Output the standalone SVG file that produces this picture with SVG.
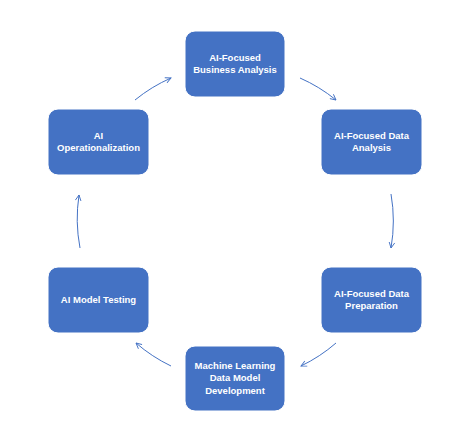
<svg xmlns="http://www.w3.org/2000/svg" width="468" height="435" viewBox="0 0 468 435">
<defs>
<style>
.box{fill:#4472C4;stroke:#ffffff;stroke-width:1}
.lbl{font-family:"Liberation Sans",Arial,sans-serif;font-weight:bold;font-size:9.5px;fill:#ffffff;text-anchor:middle}
.arc{fill:none;stroke:#4472C4;stroke-width:1}
</style>
<marker id="ah" viewBox="0 0 10 10" refX="9" refY="5" markerWidth="7" markerHeight="7" markerUnits="userSpaceOnUse" orient="auto">
<path d="M1,1 L9,5 L1,9" fill="none" stroke="#4472C4" stroke-width="1.3"/>
</marker>
</defs>
<rect width="468" height="435" fill="#ffffff"/>
<g id="connectors">
<path class="arc" marker-end="url(#ah)" d="M135,100 A157,157 0 0 1 171,78"/>
<path class="arc" marker-end="url(#ah)" d="M300,78 A157,157 0 0 1 336,100"/>
<path class="arc" marker-end="url(#ah)" d="M391,194 A157,157 0 0 1 391,248"/>
<path class="arc" marker-end="url(#ah)" d="M336,343 A157,157 0 0 1 301,366"/>
<path class="arc" marker-end="url(#ah)" d="M171,366 A157,157 0 0 1 136,343"/>
<path class="arc" marker-end="url(#ah)" d="M80,248 A157,157 0 0 1 79,195"/>
</g>
<g id="node-business">
<rect class="box" x="185" y="31" width="100" height="66" rx="10"/>
<text class="lbl" x="235" y="60.5">AI-Focused</text>
<text class="lbl" x="235" y="73">Business Analysis</text>
</g>
<g id="node-data-analysis">
<rect class="box" x="321" y="109" width="101" height="66" rx="10"/>
<text class="lbl" x="371.5" y="139">AI-Focused Data</text>
<text class="lbl" x="371.5" y="151">Analysis</text>
</g>
<g id="node-data-prep">
<rect class="box" x="321" y="267" width="101" height="66" rx="10"/>
<text class="lbl" x="371.5" y="297">AI-Focused Data</text>
<text class="lbl" x="371.5" y="309">Preparation</text>
</g>
<g id="node-ml-dev">
<rect class="box" x="185" y="346" width="100" height="65" rx="10"/>
<text class="lbl" x="235" y="369">Machine Learning</text>
<text class="lbl" x="235" y="381.3">Data Model</text>
<text class="lbl" x="235" y="393.6">Development</text>
</g>
<g id="node-testing">
<rect class="box" x="48" y="267" width="101" height="66" rx="10"/>
<text class="lbl" x="98.5" y="302.5">AI Model Testing</text>
</g>
<g id="node-operationalization">
<rect class="box" x="48" y="109" width="101" height="66" rx="10"/>
<text class="lbl" x="98.5" y="139">AI</text>
<text class="lbl" x="98.5" y="151">Operationalization</text>
</g>
</svg>
